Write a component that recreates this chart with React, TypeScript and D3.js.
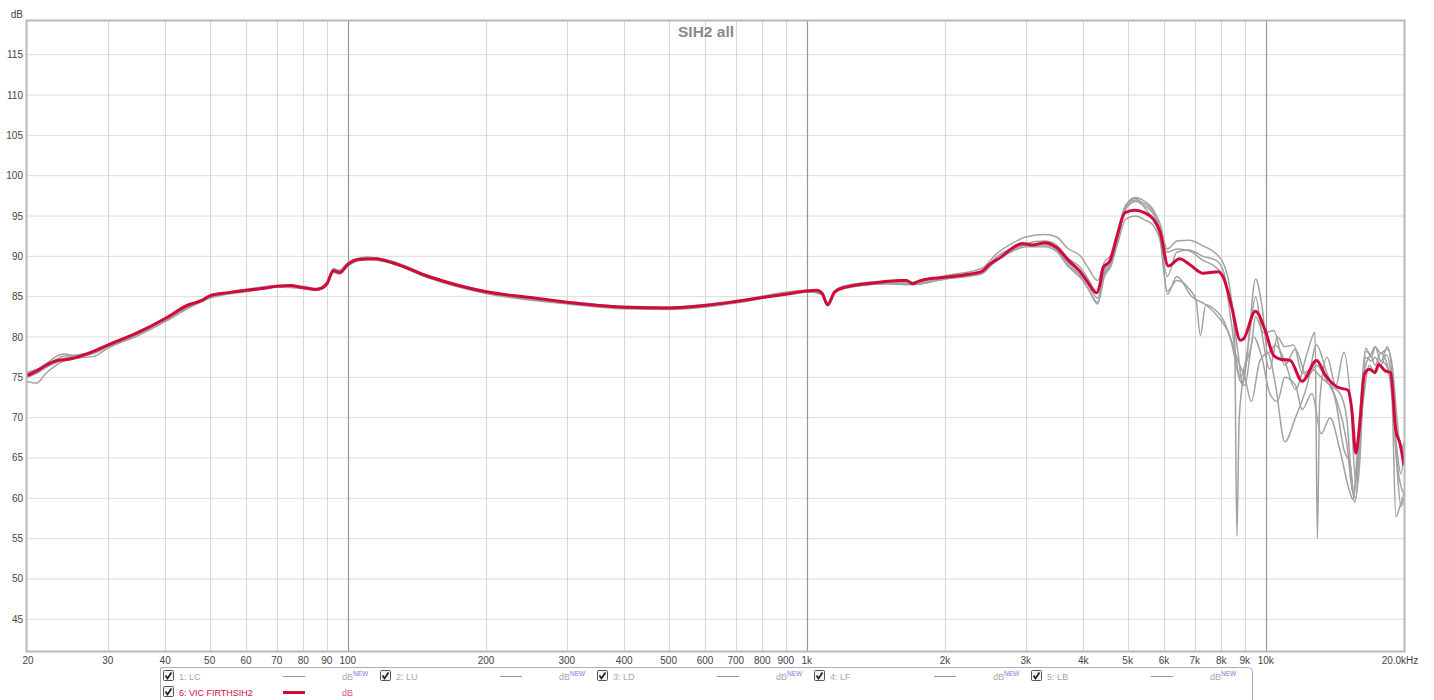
import React from "react";
import * as d3 from "d3";

// ---------- axis / legend text ----------
const X_TICKS = [20, 30, 40, 50, 60, 70, 80, 90, 100, 200, 300, 400, 500, 600, 700, 800, 900, 1000, 2000, 3000, 4000, 5000, 6000, 7000, 8000, 9000, 10000, 20000];
const X_LABELS = ["20", "30", "40", "50", "60", "70", "80", "90", "100", "200", "300", "400", "500", "600", "700", "800", "900", "1k", "2k", "3k", "4k", "5k", "6k", "7k", "8k", "9k", "10k", "20.0kHz"];
const DECADES = [100, 1000, 10000];
const Y_TICKS = [45, 50, 55, 60, 65, 70, 75, 80, 85, 90, 95, 100, 105, 110, 115];
const TITLE = "SIH2 all";
const Y_UNIT = "dB";
const GRAY_NAMES = ["1: LC", "2: LU", "3: LD", "4: LF", "5: LB"];
const RED_NAME = "6: VIC FIRTHSIH2";

// ---------- red (VIC FIRTHSIH2) ----------
const RED_F = [20, 21, 22, 23, 25, 27, 30, 35, 40, 45, 48, 50, 55, 60, 65, 70, 75, 80, 85, 88, 90, 93, 96, 100, 105, 115, 125, 150, 200, 250, 300, 400, 500, 600, 700, 800, 900, 1000, 1050, 1080, 1110, 1150, 1200, 1400, 1600, 1650, 1700, 1750, 1800, 2000, 2200, 2400, 2500, 2650, 2800, 2950, 3100, 3300, 3500, 3730, 3930, 4070, 4280, 4350, 4420, 4570, 4730, 4930, 5180, 5450, 5690, 5880, 6130, 6490, 6820, 7290, 7870, 8080, 8430, 8800, 8950, 9490, 9970, 10400, 10760, 11300, 12000, 12900, 13500, 14300, 15100, 15400, 15700, 16000, 16400, 16800, 17300, 17600, 18200, 18700, 19200, 19600, 20000];
const RED_DB = [75.2, 75.8, 76.5, 77.0, 77.3, 77.9, 79.0, 80.6, 82.3, 84.0, 84.5, 85.1, 85.5, 85.8, 86.0, 86.3, 86.4, 86.1, 85.9, 86.1, 86.6, 88.2, 88.0, 89.0, 89.6, 89.7, 89.2, 87.5, 85.6, 84.9, 84.3, 83.7, 83.6, 83.9, 84.4, 84.9, 85.3, 85.7, 85.8, 85.4, 84.0, 85.6, 86.1, 86.7, 87.0, 87.0, 86.6, 86.9, 87.1, 87.4, 87.7, 88.1, 89.0, 89.9, 91.0, 91.6, 91.4, 91.7, 91.1, 89.4, 88.2, 87.0, 85.5, 86.5, 88.6, 89.4, 92.3, 95.4, 95.7, 95.4, 94.6, 93.1, 88.8, 89.7, 89.0, 87.9, 88.1, 87.4, 83.7, 79.6, 79.8, 83.2, 80.8, 77.7, 77.25, 77.1, 74.5, 77.1, 75.2, 73.8, 73.4, 70.9, 65.6, 68.9, 75.4, 76.0, 75.6, 76.6, 75.8, 75.6, 68.4, 66.8, 64.1];

// ---------- gray measurements: shared low-frequency grid ----------
const GRAY_LOW_F = [20, 21, 22, 24, 26, 28, 30, 35, 40, 45, 50, 60, 70, 80, 85, 90, 93, 96, 100, 110, 125, 150, 200, 300, 400, 500, 700, 1000, 1080, 1110, 1150, 1200, 1500, 1700, 2000, 2400];

const LC_LOW_DB = [75.6, 76.0, 76.4, 77.6, 77.8, 78.0, 78.8, 80.5, 82.2, 83.8, 85.0, 85.9, 86.4, 86.3, 86.0, 86.8, 88.4, 88.3, 89.2, 89.9, 89.4, 87.6, 85.7, 84.4, 83.8, 83.7, 84.5, 85.8, 85.5, 84.2, 85.7, 86.3, 86.9, 86.8, 87.6, 88.5];
const LC_HI_F = [2600, 2800, 3000, 3300, 3500, 3700, 3950, 4100, 4300, 4450, 4600, 4750, 4950, 5200, 5450, 5650, 5880, 6100, 6400, 6800, 7300, 7800, 8100, 8350, 8550, 8650, 8750, 9000, 9300, 9500, 9900, 10400, 11000, 11600, 12300, 12900, 13600, 14300, 15000, 15500, 16000, 16500, 17000, 17300, 17800, 18400, 18800, 19200, 19600, 20000];
const LC_HI_DB = [90.4, 91.6, 92.4, 92.7, 92.4, 91.0, 90.0, 88.6, 87.0, 89.3, 90.2, 93.0, 96.3, 97.3, 96.8, 96.0, 94.0, 90.9, 91.9, 92.0, 91.3, 90.3, 89.0, 86.0, 80.0, 55.3, 70.0, 76.0, 79.0, 82.5, 80.5, 80.8, 76.5, 78.5, 75.0, 76.5, 74.5, 72.0, 67.0, 60.5, 70.0, 78.6, 77.5, 78.8, 77.0, 78.8, 76.0, 66.0, 62.0, 60.5];

const LU_LOW_DB = [74.5, 74.3, 75.5, 77.0, 77.4, 77.6, 78.6, 80.2, 81.9, 83.6, 84.8, 85.6, 86.2, 86.1, 85.8, 86.4, 88.0, 87.8, 88.8, 89.6, 89.1, 87.3, 85.4, 84.1, 83.5, 83.4, 84.2, 85.6, 85.3, 84.0, 85.5, 86.0, 86.6, 86.5, 87.2, 87.8];
const LU_HI_F = [2600, 2800, 3000, 3300, 3500, 3700, 3950, 4100, 4300, 4450, 4600, 4750, 4950, 5200, 5450, 5650, 5880, 6100, 6400, 6800, 7300, 7800, 8100, 8400, 8800, 9100, 9500, 9800, 10100, 10500, 11000, 11600, 12300, 12800, 12950, 13100, 13600, 14200, 14800, 15300, 15700, 16000, 16500, 17000, 17300, 17800, 18300, 18800, 19300, 19700, 20000];
const LU_HI_DB = [89.7, 90.8, 91.4, 91.4, 90.8, 89.0, 87.5, 86.0, 84.3, 87.8, 89.0, 92.0, 96.0, 97.2, 96.0, 94.8, 92.5, 87.5, 90.5, 90.8, 90.0, 89.5, 88.0, 82.0, 75.0, 78.0, 87.2, 84.0, 78.0, 79.0, 77.0, 73.5, 78.0, 80.6, 55.0, 72.0, 77.5, 74.0, 78.1, 72.0, 62.0, 66.0, 77.5, 77.0, 77.5, 76.5, 77.8, 74.5, 64.0, 59.0, 60.0];

const LD_LOW_DB = [75.0, 75.5, 76.2, 77.2, 77.7, 78.0, 78.8, 80.4, 82.0, 83.7, 84.9, 85.7, 86.2, 86.0, 85.8, 86.5, 88.2, 88.1, 88.9, 89.7, 89.2, 87.4, 85.5, 84.2, 83.6, 83.5, 84.3, 85.6, 85.3, 83.9, 85.5, 86.0, 86.6, 86.5, 87.2, 87.9];
const LD_HI_F = [2600, 2800, 3000, 3300, 3500, 3700, 3950, 4100, 4300, 4450, 4600, 4750, 4950, 5200, 5450, 5650, 5880, 6100, 6400, 6800, 7050, 7200, 7400, 7700, 8100, 8400, 8800, 9000, 9400, 9800, 10200, 10600, 11000, 11600, 12000, 12600, 13200, 13800, 14500, 15200, 15500, 15800, 16300, 16800, 17300, 17800, 18300, 18800, 19200, 19600, 20000];
const LD_HI_DB = [89.6, 90.6, 91.2, 91.2, 90.6, 88.8, 87.3, 86.0, 84.1, 87.5, 88.8, 91.5, 94.6, 95.0, 94.5, 94.0, 92.0, 85.7, 87.0, 86.0, 84.5, 80.2, 84.0, 83.5, 82.0, 79.5, 74.5, 74.0, 80.0, 77.5, 73.0, 72.0, 75.0, 74.0, 71.0, 73.0, 68.0, 70.0, 66.0, 61.0, 59.8, 64.0, 72.0, 76.5, 75.5, 77.0, 76.5, 73.5, 57.7, 59.0, 60.6];

const LF_LOW_DB = [75.4, 75.7, 76.3, 77.3, 77.8, 78.2, 79.0, 80.5, 82.2, 83.9, 85.0, 85.8, 86.3, 86.1, 85.9, 86.6, 88.2, 88.0, 89.0, 89.8, 89.3, 87.5, 85.6, 84.3, 83.7, 83.6, 84.4, 85.7, 85.4, 84.0, 85.6, 86.1, 86.7, 86.6, 87.3, 88.0];
const LF_HI_F = [2600, 2800, 3000, 3300, 3500, 3700, 3950, 4100, 4300, 4450, 4600, 4750, 4950, 5200, 5450, 5650, 5880, 6100, 6400, 6900, 7400, 7900, 8300, 8700, 9000, 9300, 9700, 10100, 10500, 11000, 11600, 12300, 12900, 13500, 14200, 14800, 15300, 15600, 16000, 16500, 17000, 17300, 17800, 18300, 18800, 19300, 19700, 20000];
const LF_HI_DB = [89.7, 90.8, 91.4, 91.5, 91.0, 89.3, 87.8, 86.5, 84.8, 88.0, 89.3, 92.2, 95.8, 96.8, 96.2, 95.5, 93.0, 85.3, 87.5, 85.0, 84.0, 82.4, 80.5, 77.0, 75.0, 72.0, 77.0, 78.0, 74.0, 67.0, 70.0, 74.0, 79.0, 76.0, 72.0, 66.0, 64.0, 59.5, 64.0, 78.2, 77.5, 76.5, 78.0, 77.0, 73.0, 66.0, 63.0, 66.5];

const LB_LOW_DB = [75.5, 75.9, 76.7, 77.9, 77.6, 78.0, 78.9, 80.4, 82.1, 83.9, 85.0, 85.7, 86.3, 86.2, 85.9, 86.6, 88.5, 88.2, 89.1, 89.9, 89.3, 87.5, 85.5, 84.2, 83.6, 83.5, 84.4, 85.6, 85.3, 84.0, 85.5, 86.1, 86.7, 86.6, 87.3, 88.1];
const LB_HI_F = [2600, 2800, 3000, 3300, 3500, 3700, 3950, 4100, 4300, 4450, 4600, 4750, 4950, 5200, 5450, 5650, 5880, 6100, 6400, 6800, 7300, 7800, 8100, 8400, 8700, 8900, 9200, 9500, 9800, 10200, 10600, 11000, 11500, 12000, 12600, 13200, 13800, 14500, 15000, 15400, 15700, 16000, 16500, 17000, 17300, 17800, 18400, 18900, 19300, 19700, 20000];
const LB_HI_DB = [90.0, 91.0, 91.6, 91.9, 91.4, 89.8, 88.6, 87.2, 85.4, 88.4, 89.6, 92.6, 96.3, 97.0, 96.5, 95.8, 94.0, 90.5, 90.9, 90.7, 89.5, 88.6, 87.4, 84.0, 78.0, 74.0, 80.0, 85.0, 80.5, 76.0, 80.0, 78.8, 79.0, 75.5, 76.0, 75.0, 74.0, 73.0, 70.0, 62.0, 60.0, 68.0, 76.5, 78.0, 78.8, 78.0, 78.5, 76.0, 70.0, 66.0, 67.0];

type Pt = [number, number];
const zip = (f: number[], v: number[]): Pt[] => f.map((fr, i) => [fr, v[i]] as Pt);

const GRAY_SERIES: Pt[][] = [
  zip(GRAY_LOW_F.concat(LC_HI_F), LC_LOW_DB.concat(LC_HI_DB)),
  zip(GRAY_LOW_F.concat(LU_HI_F), LU_LOW_DB.concat(LU_HI_DB)),
  zip(GRAY_LOW_F.concat(LD_HI_F), LD_LOW_DB.concat(LD_HI_DB)),
  zip(GRAY_LOW_F.concat(LF_HI_F), LF_LOW_DB.concat(LF_HI_DB)),
  zip(GRAY_LOW_F.concat(LB_HI_F), LB_LOW_DB.concat(LB_HI_DB)),
];
const RED_SERIES: Pt[] = zip(RED_F, RED_DB);

const FONT = "'Liberation Sans', Arial, sans-serif";
const RED = "#d20a3c";
const GRAY = "#a2a2a2";

function CheckBox({ x, y }: { x: number; y: number }) {
  return (
    <g>
      <rect x={x + 0.5} y={y - 5.5} width={10} height={10} fill="#f2f2f2" stroke="#555" strokeWidth={1} rx={1} />
      <path d={`M${x + 2.5},${y - 0.5} L${x + 4.5},${y + 2.5} L${x + 8.5},${y - 3.5}`} fill="none" stroke="#222" strokeWidth={1.7} />
    </g>
  );
}

export default function App() {
  const L = 27, R = 1404, T = 21, B = 651;
  const x = d3.scaleLog().domain([20, 20000]).range([L, R]);
  const y = d3.scaleLinear().domain([45, 115]).range([619.3, 54.7]);
  const line = d3
    .line<Pt>()
    .x((d) => x(d[0]))
    .y((d) => y(d[1]))
    .curve(d3.curveMonotoneX);

  const legendX0 = 163;
  const legendStep = 217;

  return (
    <svg
      width={1434}
      height={700}
      style={{ position: "absolute", left: 0, top: 0, background: "#fff" }}
      fontFamily={FONT}
    >
      <defs>
        <clipPath id="plot">
          <rect x={L} y={T} width={R - L} height={B - T} />
        </clipPath>
      </defs>
      <rect x={0} y={0} width={1434} height={700} fill="#fff" />

      {/* horizontal grid */}
      {Y_TICKS.map((t) => (
        <line key={"h" + t} x1={L} x2={R} y1={y(t)} y2={y(t)} stroke="#dcdcdc" strokeWidth={1} />
      ))}
      {/* vertical grid */}
      {X_TICKS.filter((t) => t > 20 && t < 20000).map((t) => (
        <line
          key={"v" + t}
          x1={Math.round(x(t)) + 0.5}
          x2={Math.round(x(t)) + 0.5}
          y1={T}
          y2={B}
          stroke={DECADES.includes(t) ? "#959595" : "#d6d6d6"}
          strokeWidth={DECADES.includes(t) ? 1.2 : 1}
        />
      ))}

      {/* title */}
      <text x={706} y={37} textAnchor="middle" fontSize={15.5} fontWeight="bold" fill="#8a8a8a">
        {TITLE}
      </text>

      {/* curves */}
      <g clipPath="url(#plot)">
        {GRAY_SERIES.map((s, i) => (
          <path key={"g" + i} d={line(s) || ""} fill="none" stroke={GRAY} strokeWidth={1.5} strokeLinejoin="round" />
        ))}
        <path d={line(RED_SERIES) || ""} fill="none" stroke={RED} strokeWidth={3} strokeLinejoin="round" />
      </g>

      {/* frame */}
      <rect x={L - 0.5} y={T - 0.5} width={R - L + 1} height={B - T + 1} fill="none" stroke="#b8b8b8" strokeWidth={2} />

      {/* y labels */}
      <text x={23} y={18} textAnchor="end" fontSize={10} fill="#444">
        {Y_UNIT}
      </text>
      {Y_TICKS.map((t) => (
        <text key={"yl" + t} x={23} y={y(t) + 3.5} textAnchor="end" fontSize={10} fill="#444">
          {t}
        </text>
      ))}
      {/* x labels */}
      {X_TICKS.map((t, i) => (
        <text
          key={"xl" + t}
          x={t === 20000 ? x(t) - 4 : x(t) + (t === 20 ? 1 : 0)}
          y={664}
          textAnchor="middle"
          fontSize={10}
          fill="#444"
        >
          {X_LABELS[i]}
        </text>
      ))}

      {/* legend */}
      <path d="M160.5,705 L160.5,667.5 L1248.5,667.5 Q1252.5,667.5 1252.5,671.5 L1252.5,705" fill="#fff" stroke="#b0b0b0" strokeWidth={1} />
      {GRAY_NAMES.map((n, i) => {
        const x0 = legendX0 + legendStep * i;
        return (
          <g key={"lg" + i}>
            <CheckBox x={x0} y={676} />
            <text x={x0 + 16} y={679.5} fontSize={9} fill="#a8a8a8">
              {n}
            </text>
            <line x1={x0 + 120} x2={x0 + 142} y1={676.5} y2={676.5} stroke="#999" strokeWidth={1} />
            <text x={x0 + 179} y={679.5} fontSize={9} fill="#a8a8a8">
              dB
              <tspan fontSize={6.5} dy={-3.5} fill="#7a7ae0">
                NEW
              </tspan>
            </text>
          </g>
        );
      })}
      <CheckBox x={legendX0} y={692} />
      <text x={legendX0 + 16} y={695.5} fontSize={9} fill={RED}>
        {RED_NAME}
      </text>
      <line x1={legendX0 + 120} x2={legendX0 + 142} y1={692.5} y2={692.5} stroke={RED} strokeWidth={3} />
      <text x={legendX0 + 179} y={695.5} fontSize={9} fill="#d65a72">
        dB
      </text>
    </svg>
  );
}
